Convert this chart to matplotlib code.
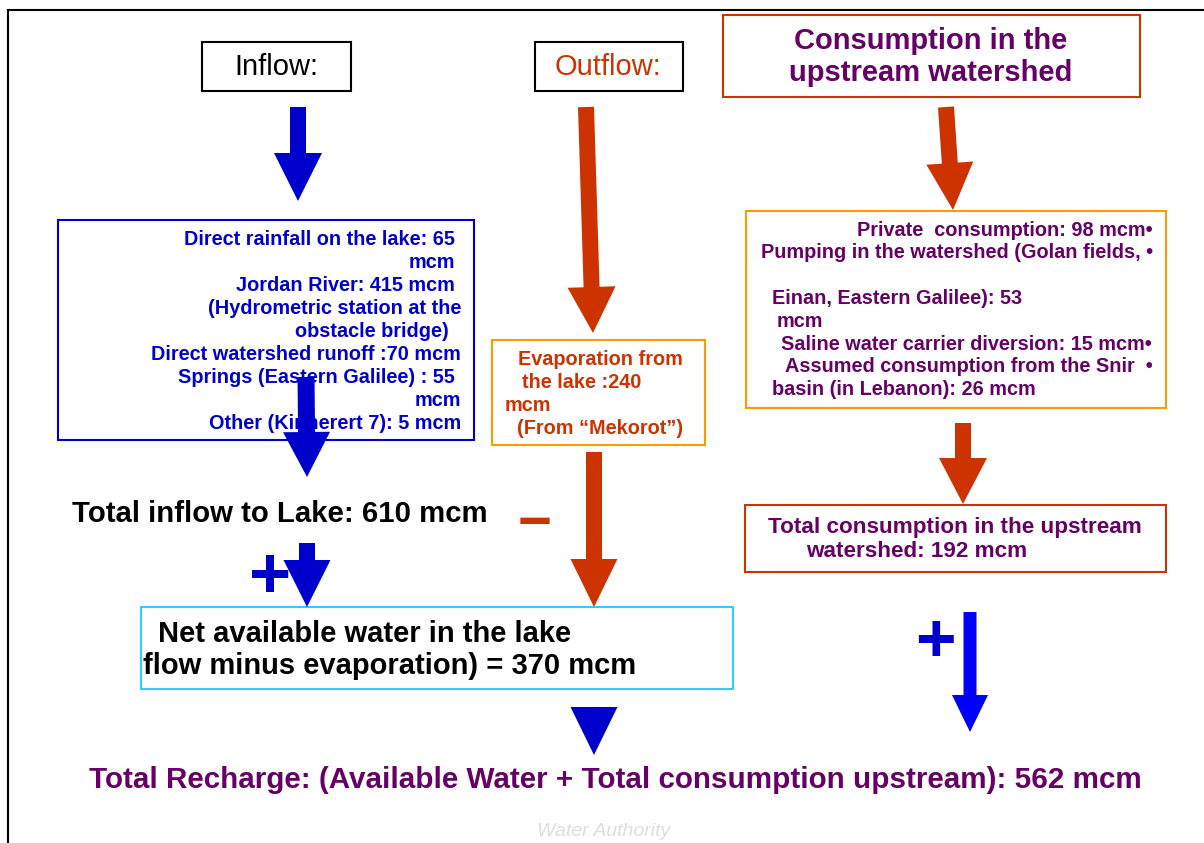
import matplotlib.pyplot as plt
from matplotlib.patches import Rectangle, FancyArrow

plt.rcParams['font.family'] = ['Liberation Sans', 'DejaVu Sans']

# Valores del balance (mcm)
rain_lake = 65
jordan_river = 415
watershed_runoff = 70
springs = 55
other_kinneret = 5
total_inflow = 610
evaporation = 240
net_available = 370
private_use = 98
golan_pumping = 53
saline_carrier = 15
snir_basin = 26
total_upstream = 192
total_recharge = 562

# Textos
inflow_lines = [f"Direct rainfall on the lake: {rain_lake}", "mcm",
                f"Jordan River: {jordan_river} mcm", "(Hydrometric station at the",
                "obstacle bridge)", f"Direct watershed runoff :{watershed_runoff} mcm",
                f"Springs (Eastern Galilee) : {springs}", "mcm",
                f"Other (Kinnerert 7): {other_kinneret} mcm"]
evap_lines = ["Evaporation from", f"the lake :{evaporation}", "mcm",
              "(From \u201cMekorot\u201d)"]
upstream_lines = [f"Private  consumption: {private_use} mcm\u2022",
                  "Pumping in the watershed (Golan fields, \u2022",
                  f"Einan, Eastern Galilee): {golan_pumping}", "mcm",
                  f"Saline water carrier diversion: {saline_carrier} mcm\u2022",
                  "Assumed consumption from the Snir  \u2022",
                  f"basin (in Lebanon): {snir_basin} mcm"]

BLUE = '#0000CC'
BLUE2 = '#0000FF'
RED = '#CC3300'
ORANGE = '#FF9900'
PURPLE = '#660066'
CYAN = '#33CCFF'

fig = plt.figure(figsize=(12.04, 8.43), dpi=100)
ax = fig.add_axes([0, 0, 1, 1])
ax.set_xlim(0, 1204)
ax.set_ylim(843, 0)
ax.axis('off')

# marco de la diapositiva
ax.plot([8, 1204], [10, 10], color='black', lw=1.5)
ax.plot([8, 8], [10, 843], color='black', lw=1.5)


def box(x0, y0, x1, y1, color, lw=1.5):
    ax.add_patch(Rectangle((x0, y0), x1 - x0, y1 - y0, fill=False,
                           edgecolor=color, lw=lw, zorder=2))


def arrow(x0, y0, x1, y1, w, hw, hl, color):
    ax.add_patch(FancyArrow(x0, y0, x1 - x0, y1 - y0, width=w, head_width=hw,
                            head_length=hl, length_includes_head=True,
                            color=color, lw=0, zorder=5))


# Encabezados
box(202, 42, 351, 91, 'black')
ax.text(276, 75, "Inflow:", ha='center', va='baseline', fontsize=21, color='black')
box(535, 42, 683, 91, 'black')
ax.text(608, 75, "Outflow:", ha='center', va='baseline', fontsize=21, color=RED)
box(723, 15, 1140, 97, RED)
ax.text(931, 49, "Consumption in the", ha='center', va='baseline', fontsize=21,
        fontweight='bold', color=PURPLE)
ax.text(931, 81, "upstream watershed", ha='center', va='baseline', fontsize=21,
        fontweight='bold', color=PURPLE)

# Caja de entradas
box(58, 220, 474, 440, BLUE)
inflow_right = [455, 455, 455, 461, 449, 461, 455, 461, 461]
for i, (s, xr) in enumerate(zip(inflow_lines, inflow_right)):
    ax.text(xr, 245 + 23 * i, s, ha='right', va='baseline', fontsize=14.3,
            fontweight='bold', color=BLUE)

# Caja de evaporacion
box(492, 340, 705, 445, ORANGE)
evap_left = [518, 522, 505, 517]
for i, (s, xl) in enumerate(zip(evap_lines, evap_left)):
    ax.text(xl, 365 + 23 * i, s, ha='left', va='baseline', fontsize=14.3,
            fontweight='bold', color=RED)

# Caja de consumo aguas arriba
box(746, 211, 1166, 408, ORANGE)
up_y = [236, 258, 304, 327, 350, 372, 395]
up_x = [1153, 1153, 772, 777, 1152, 1153, 772]
up_ha = ['right', 'right', 'left', 'left', 'right', 'right', 'left']
for s, y, x, h in zip(upstream_lines, up_y, up_x, up_ha):
    ax.text(x, y, s, ha=h, va='baseline', fontsize=14.3, fontweight='bold',
            color=PURPLE)

box(745, 505, 1166, 572, RED)
ax.text(768, 533, "Total consumption in the upstream", ha='left', va='baseline',
        fontsize=16.2, fontweight='bold', color=PURPLE)
ax.text(806, 557, f"watershed: {total_upstream} mcm", ha='left', va='baseline',
        fontsize=16.2, fontweight='bold', color=PURPLE)

# Totales
ax.text(72, 522, f"Total inflow to Lake: {total_inflow} mcm", ha='left',
        va='baseline', fontsize=21.2, fontweight='bold', color='black')

box(141, 607, 733, 689, CYAN)
ax.text(158, 642, "Net available water in the lake", ha='left', va='baseline',
        fontsize=21, fontweight='bold', color='black')
ax.text(143, 674, f"flow minus evaporation) = {net_available} mcm", ha='left',
        va='baseline', fontsize=21, fontweight='bold', color='black')

ax.text(615, 788,
        f"Total Recharge: (Available Water + Total consumption upstream): {total_recharge} mcm",
        ha='center', va='baseline', fontsize=21.3, fontweight='bold', color=PURPLE)

ax.text(604, 836, "Water Authority", ha='center', va='baseline', fontsize=14,
        style='italic', color='#DDDDDD')

# Signos
ax.text(270.5, 598, "+", ha='center', va='baseline', fontsize=52,
        fontweight='bold', color=BLUE)
ax.text(935, 661, "+", ha='center', va='baseline', fontsize=50,
        fontweight='bold', color=BLUE)
ax.text(535, 540, "\u2212", ha='center', va='baseline', fontsize=42,
        fontweight='bold', color=RED)

# Flechas
arrow(298, 107, 298, 201, 16, 48, 48, BLUE)
arrow(306, 377, 307, 477, 17, 47, 45, BLUE)
arrow(307, 543, 307, 607, 16, 47, 47, BLUE)
arrow(586, 107, 593, 333, 16, 48, 46, RED)
arrow(594, 452, 594, 607, 16, 47, 48, RED)
arrow(946, 107, 953, 210, 16, 47, 47, RED)
arrow(963, 423, 963, 504, 16, 48, 46, RED)
arrow(970, 612, 970, 732, 13, 36, 37, BLUE2)
arrow(594, 707, 594, 755, 0, 47, 48, BLUE)

fig.savefig('out.png', dpi=100)
